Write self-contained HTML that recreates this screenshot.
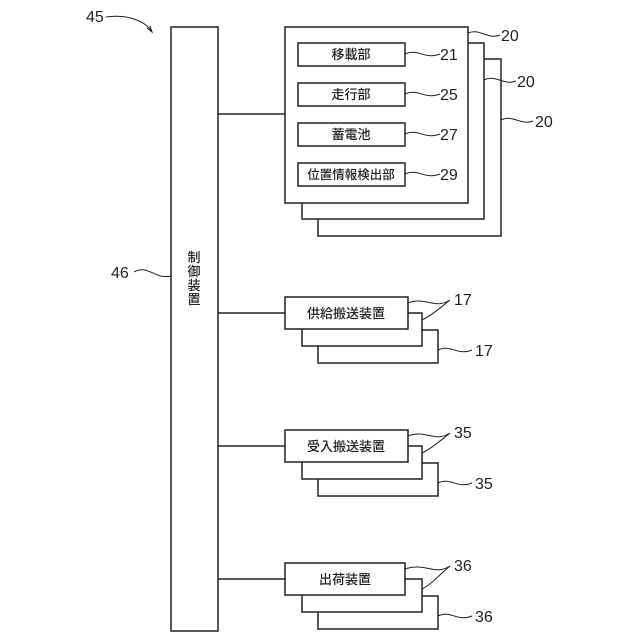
<!DOCTYPE html>
<html><head><meta charset="utf-8"><style>
html,body{margin:0;padding:0;background:#fff;}
svg{display:block}
text{font-family:"Liberation Sans","Noto Sans CJK JP",sans-serif;fill:#222}
</style></head><body>
<svg width="640" height="640" viewBox="0 0 640 640" xmlns="http://www.w3.org/2000/svg">
<g fill="#fff" stroke="#222" stroke-width="1.5">
<rect x="171" y="27" width="47" height="604"/>
<line x1="218" y1="114" x2="285" y2="114"/>
<line x1="218" y1="313" x2="285" y2="313"/>
<line x1="218" y1="446" x2="285" y2="446"/>
<line x1="218" y1="579" x2="285" y2="579"/>
<rect x="318" y="59" width="183" height="177"/>
<rect x="302" y="43" width="182" height="176"/>
<rect x="285" y="27" width="183" height="176"/>
<rect x="298" y="43" width="107" height="23"/>
<rect x="298" y="83" width="107" height="23"/>
<rect x="298" y="123" width="107" height="23"/>
<rect x="298" y="163" width="107" height="23"/>
<rect x="318" y="330" width="120" height="33"/>
<rect x="302" y="313" width="120" height="33"/>
<rect x="285" y="297" width="123" height="32"/>
<rect x="318" y="463" width="120" height="33"/>
<rect x="302" y="446" width="120" height="33"/>
<rect x="285" y="430" width="123" height="32"/>
<rect x="318" y="596" width="120" height="33"/>
<rect x="302" y="579" width="120" height="33"/>
<rect x="285" y="563" width="120" height="32"/>
</g>
<g fill="none" stroke="#222" stroke-width="1">
<path d="M106,17 C125,14 145,20 152,32"/>
<path d="M147,28 L152,32 L150,26"/>
<path d="M134,272 C148,264 155,280 171,276"/>
<path d="M468,33 C480,28 488,40 500,35"/>
<path d="M484,80 C496,74 504,86 516,81"/>
<path d="M501,120 C513,114 521,126 533,121"/>
<path d="M405,54 C418,48 425,60 440,54"/>
<path d="M405,94 C418,88 425,100 440,94"/>
<path d="M405,134 C418,128 425,140 440,134"/>
<path d="M405,174 C418,168 425,180 440,174"/>
<path d="M408,303 C425,296 435,310 450,300"/>
<path d="M422,320 C432,315 440,308 450,300"/>
<path d="M438,350 C450,344 458,356 472,350"/>
<path d="M408,436 C425,429 435,443 450,433"/>
<path d="M422,453 C432,448 440,441 450,433"/>
<path d="M438,483 C450,477 458,489 472,483"/>
<path d="M405,569 C425,562 435,576 450,566"/>
<path d="M422,589 C432,584 440,574 450,566"/>
<path d="M438,616 C450,610 458,622 472,616"/>
</g>
<g font-size="16">
<text x="86" y="22">45</text>
<text x="111" y="278">46</text>
<text x="501" y="41">20</text>
<text x="517" y="87">20</text>
<text x="535" y="127">20</text>
<text x="440" y="60">21</text>
<text x="440" y="100">25</text>
<text x="440" y="140">27</text>
<text x="440" y="180">29</text>
<text x="454" y="305">17</text>
<text x="475" y="356">17</text>
<text x="454" y="438">35</text>
<text x="475" y="489">35</text>
<text x="454" y="571">36</text>
<text x="475" y="622">36</text>
</g>
<g font-size="13" text-anchor="middle" style="font-weight:500">
<text x="351" y="59">移載部</text>
<text x="351" y="99">走行部</text>
<text x="351" y="139">蓄電池</text>
<text x="351" y="179" font-size="12.5">位置情報検出部</text>
<text x="346" y="318">供給搬送装置</text>
<text x="346" y="451">受入搬送装置</text>
<text x="345" y="584">出荷装置</text>
<text x="194" y="262">制</text>
<text x="194" y="276">御</text>
<text x="194" y="290">装</text>
<text x="194" y="304">置</text>
</g>
</svg>
</body></html>
